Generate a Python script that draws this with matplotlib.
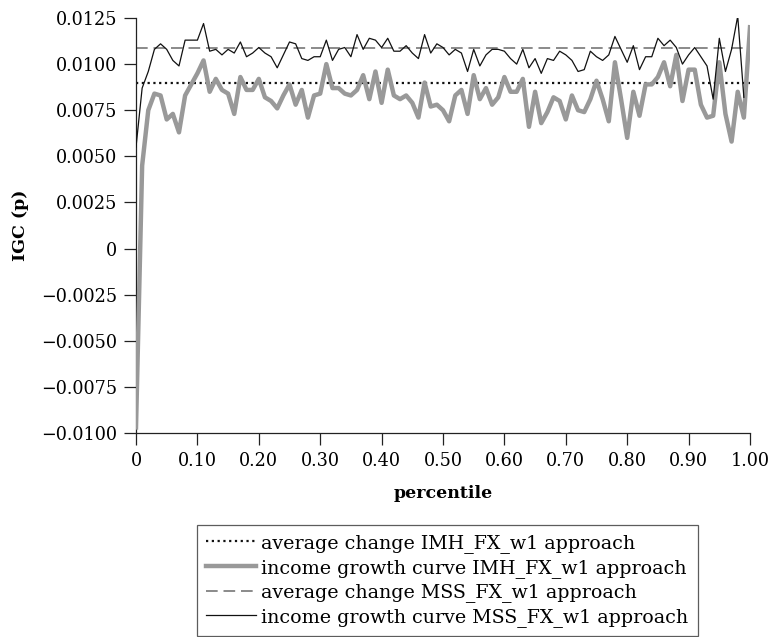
import numpy as np
import matplotlib
matplotlib.use("Agg")
import matplotlib.pyplot as plt

# ---------------- data ----------------
percentile = np.linspace(0.0, 1.0, 101)

igc_imh = [
    -0.0097, 0.0045, 0.0075, 0.0084, 0.0083, 0.0070, 0.0073, 0.0063, 0.0083, 0.0089,
    0.0095, 0.0102, 0.0085, 0.0092, 0.0086, 0.0084, 0.0073, 0.0093, 0.0086, 0.0086,
    0.0092, 0.0082, 0.0080, 0.0076, 0.0083, 0.0089, 0.0078, 0.0086, 0.0071, 0.0083,
    0.0084, 0.0100, 0.0087, 0.0087, 0.0084, 0.0083, 0.0086, 0.0094, 0.0081, 0.0096,
    0.0079, 0.0097, 0.0083, 0.0081, 0.0083, 0.0079, 0.0071, 0.0090, 0.0077, 0.0078,
    0.0075, 0.0069, 0.0083, 0.0086, 0.0073, 0.0094, 0.0081, 0.0087, 0.0078, 0.0082,
    0.0093, 0.0085, 0.0085, 0.0092, 0.0066, 0.0085, 0.0068, 0.0074, 0.0082, 0.0080,
    0.0070, 0.0083, 0.0075, 0.0074, 0.0081, 0.0091, 0.0081, 0.0069, 0.0101, 0.0081,
    0.0060, 0.0085, 0.0072, 0.0089, 0.0089, 0.0093, 0.0101, 0.0088, 0.0105, 0.0080,
    0.0097, 0.0097, 0.0078, 0.0071, 0.0072, 0.0101, 0.0073, 0.0058, 0.0085, 0.0071,
    0.0120,
]

igc_mss = [
    0.0055, 0.0087, 0.0096, 0.0108, 0.0111, 0.0108, 0.0102, 0.0099, 0.0113, 0.0113,
    0.0113, 0.0122, 0.0107, 0.0108, 0.0105, 0.0108, 0.0106, 0.0112, 0.0104, 0.0106,
    0.0109, 0.0106, 0.0104, 0.0098, 0.0105, 0.0112, 0.0111, 0.0103, 0.0102, 0.0104,
    0.0104, 0.0113, 0.0102, 0.0108, 0.0109, 0.0104, 0.0116, 0.0108, 0.0114, 0.0113,
    0.0109, 0.0114, 0.0107, 0.0107, 0.0110, 0.0106, 0.0103, 0.0116, 0.0106, 0.0111,
    0.0109, 0.0105, 0.0108, 0.0106, 0.0096, 0.0108, 0.0099, 0.0105, 0.0108, 0.0108,
    0.0107, 0.0103, 0.0100, 0.0108, 0.0098, 0.0103, 0.0095, 0.0103, 0.0102, 0.0107,
    0.0105, 0.0102, 0.0096, 0.0097, 0.0107, 0.0104, 0.0102, 0.0105, 0.0115, 0.0108,
    0.0101, 0.0110, 0.0097, 0.0104, 0.0104, 0.0114, 0.0110, 0.0113, 0.0109, 0.0100,
    0.0105, 0.0109, 0.0104, 0.0099, 0.0081, 0.0114, 0.0096, 0.0108, 0.0126, 0.0082,
]

avg_imh = 0.0090
avg_mss = 0.0109

ytick_values = [-0.0100, -0.0075, -0.0050, -0.0025, 0.0, 0.0025, 0.0050, 0.0075, 0.0100, 0.0125]
ytick_labels = ["\u22120.0100", "\u22120.0075", "\u22120.0050", "\u22120.0025", "0",
                "0.0025", "0.0050", "0.0075", "0.0100", "0.0125"]
xtick_values = [0.0, 0.1, 0.2, 0.3, 0.4, 0.5, 0.6, 0.7, 0.8, 0.9, 1.0]
xtick_labels = ["0", "0.10", "0.20", "0.30", "0.40", "0.50", "0.60", "0.70", "0.80", "0.90", "1.00"]

labels = [
    "average change IMH_FX_w1 approach",
    "income growth curve IMH_FX_w1 approach",
    "average change MSS_FX_w1 approach",
    "income growth curve MSS_FX_w1 approach",
]

# ---------------- figure ----------------
plt.rcParams["font.family"] = ["DejaVu Serif"]

W, H = 769, 637
fig = plt.figure(figsize=(W / 100, H / 100), dpi=100)
ax = fig.add_axes([136 / W, 1 - 433 / H, (750 - 136) / W, (433 - 18) / H])

x_mss = percentile[:len(igc_mss)]

h1 = ax.axhline(avg_imh, color="#111111", lw=1.6, ls=(0, (1, 1.6)), zorder=2)
h3 = ax.axhline(avg_mss, color="#777777", lw=1.2, ls=(0, (7, 3.5)), zorder=2)
h2, = ax.plot(percentile, igc_imh, color="#999999", lw=3.2, zorder=3,
              solid_joinstyle="round")
h4, = ax.plot(x_mss, igc_mss, color="#111111", lw=0.9, zorder=4)

ax.set_xlim(0, 1.0)
ax.set_ylim(-0.0100, 0.0125)

ax.set_xticks(xtick_values)
ax.set_xticklabels(xtick_labels)
ax.set_yticks(ytick_values)
ax.set_yticklabels(ytick_labels)

for s in ["top", "right"]:
    ax.spines[s].set_visible(False)
for s in ["left", "bottom"]:
    ax.spines[s].set_linewidth(0.9)
    ax.spines[s].set_color("#222222")

ax.tick_params(axis="both", direction="out", length=8.5, width=0.9,
               color="#222222", labelsize=12.7, pad=5)

ax.set_xlabel("percentile", fontsize=12.5, fontweight="bold", labelpad=11)
ax.set_ylabel("IGC (p)", fontsize=12.5, fontweight="bold", labelpad=9)

leg = fig.legend([h1, h2, h3, h4], labels,
                 loc="upper left", bbox_to_anchor=(197 / W, 1 - 525 / H),
                 bbox_transform=fig.transFigure,
                 fontsize=13.7, frameon=True, fancybox=False,
                 handlelength=2.6, handletextpad=0.3, labelspacing=0.3,
                 borderpad=0.48, borderaxespad=0.0)
leg.get_frame().set_edgecolor("#333333")
leg.get_frame().set_linewidth(0.9)

fig.savefig("out.png", dpi=100)
